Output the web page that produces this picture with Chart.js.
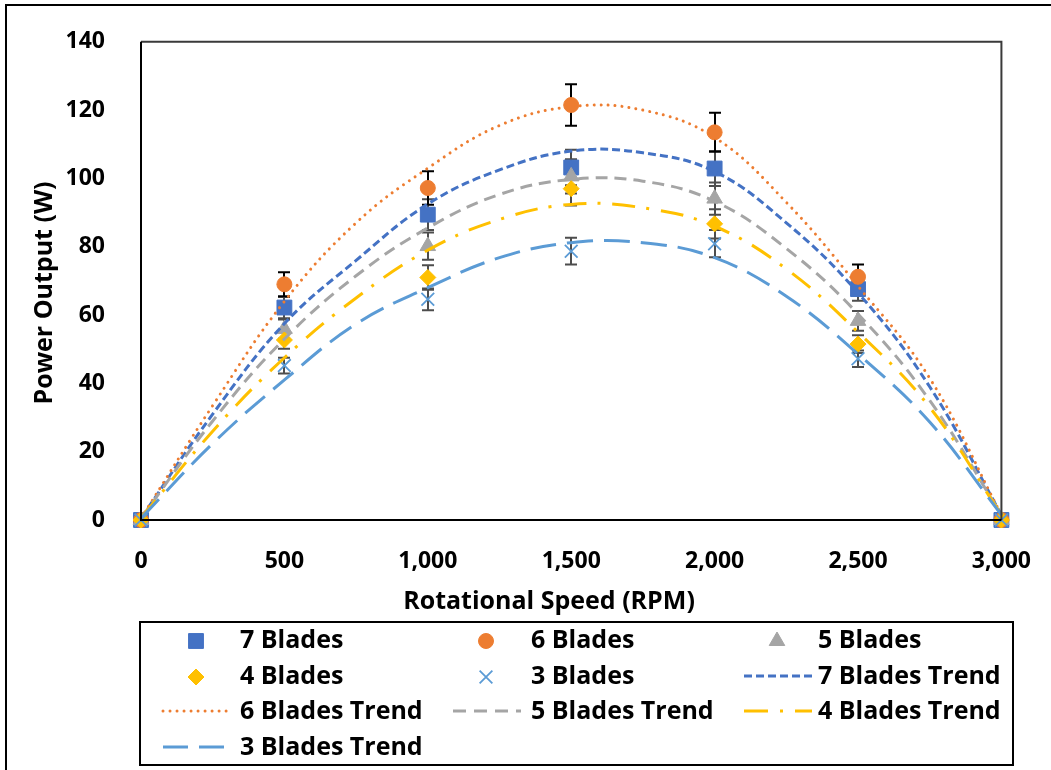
<!DOCTYPE html>
<html>
<head>
<meta charset="utf-8">
<title>Power Output vs Rotational Speed</title>
<script src="https://cdn.jsdelivr.net/npm/chart.js@4.4.1/dist/chart.umd.min.js"></script>
<style>
  html, body { margin: 0; padding: 0; background: #fff; }
  #wrap { width: 1051px; height: 770px; position: relative; }
</style>
</head>
<body>
<div id="wrap"><canvas id="myChart"></canvas></div>
<script>
'use strict';
// measured points
let rpm = [0, 500, 1000, 1500, 2000, 2500, 3000];
let blades7 = [0, 62.2, 89.4, 103.2, 102.9, 67.6, 0];
let blades6 = [0, 69.0, 97.2, 121.5, 113.5, 71.2, 0];
let blades5 = [0, 55.9, 80.2, 100.6, 94.1, 58.3, 0];
let blades4 = [0, 52.7, 71.0, 97.0, 86.7, 51.5, 0];
let blades3 = [0, 45.2, 64.6, 78.7, 80.9, 47.2, 0];

// error bar half-heights
let err7 = [0, 3.1, 4.5, 5.2, 5.1, 3.4, 0];
let err6 = [0, 3.5, 4.9, 6.1, 5.7, 3.6, 0];
let err5 = [0, 2.8, 4.0, 5.0, 4.7, 2.9, 0];
let err4 = [0, 2.6, 3.6, 4.9, 4.3, 2.6, 0];
let err3 = [0, 2.3, 3.2, 3.9, 4.0, 2.4, 0];

// trend lines
let trendRpm = [0, 250, 500, 750, 1000, 1250, 1500, 1750, 2000, 2250, 2500, 2750, 3000];
let trend7 = [0.5, 31, 57.5, 76, 92.5, 102.5, 108, 107.5, 102, 87, 66.5, 39, 1.5];
let trend6 = [0.5, 33.5, 64, 87, 103, 115.5, 121, 120, 112, 93, 68.5, 41.5, 1.5];
let trend5 = [0.5, 29, 53, 71.5, 85.5, 95.3, 99.7, 99.2, 93.3, 79.5, 60.3, 35, 1.5];
let trend4 = [0.5, 26, 47.5, 65, 79, 88, 92.4, 91.4, 86, 73.5, 55, 33, 1.5];
let trend3 = [0.5, 22.4, 41, 57.4, 68, 76.8, 81.2, 81.2, 76.8, 65.5, 48.6, 28.7, 1.5];

let xTickLabels = ['0', '500', '1,000', '1,500', '2,000', '2,500', '3,000'];
let seriesNames = ['7 Blades', '6 Blades', '5 Blades', '4 Blades', '3 Blades'];
let xTitle = 'Rotational Speed (RPM)';
let yTitle = 'Power Output (W)';

let seriesValues = [blades7, blades6, blades5, blades4, blades3];
let seriesErrors = [err7, err6, err5, err4, err3];
let errColors = ['#4d4d4d', '#000000', '#4d4d4d', '#4d4d4d', '#4d4d4d'];

let FONT = 'Open Sans';

function toPoints(xs, ys) {
  return xs.map((x, i) => ({ x: x, y: ys[i] }));
}

function markerSet(label, values, style, radius, color, bw) {
  return {
    label: label,
    data: toPoints(rpm, values),
    showLine: false,
    pointStyle: style,
    pointRadius: radius,
    pointHoverRadius: radius,
    backgroundColor: color,
    borderColor: color,
    pointBorderWidth: bw,
    clip: false
  };
}

function trendSet(label, values, color, dash, cap, legendDash) {
  return {
    label: label,
    data: toPoints(trendRpm, values),
    showLine: true,
    pointRadius: 0,
    borderColor: color,
    backgroundColor: color,
    borderWidth: 3,
    borderDash: dash,
    borderCapStyle: cap,
    tension: 0.4,
    legendDash: legendDash,
    clip: false
  };
}

let datasets = [
  markerSet(seriesNames[0], blades7, 'rect', 10.5, '#4472C4', 1),
  markerSet(seriesNames[1], blades6, 'circle', 7.5, '#ED7D31', 1),
  markerSet(seriesNames[2], blades5, 'triangle', 9, '#A5A5A5', 1),
  markerSet(seriesNames[3], blades4, 'rectRot', 8, '#FFC000', 1),
  markerSet(seriesNames[4], blades3, 'crossRot', 9, '#5B9BD5', 1.8),
  trendSet('7 Blades Trend', trend7, '#4472C4', [8, 4], 'butt', [8, 4]),
  trendSet('6 Blades Trend', trend6, '#ED7D31', [0.01, 7], 'round', [0.01, 7]),
  trendSet('5 Blades Trend', trend5, '#A5A5A5', [12, 7], 'butt', [13, 8]),
  trendSet('4 Blades Trend', trend4, '#FFC000', [23, 11, 3, 12], 'butt', [24, 12, 3, 12]),
  trendSet('3 Blades Trend', trend3, '#5B9BD5', [26, 11], 'butt', [25, 11])
];
// later series drawn on top, like the original
datasets.forEach((d, i) => { d.order = datasets.length - i; });

let extras = {
  id: 'extras',
  beforeDatasetsDraw(chart) {
    let ctx = chart.ctx;
    let xs = chart.scales.x;
    let ys = chart.scales.y;
    ctx.save();
    ctx.lineWidth = 2;
    for (let s = 0; s < seriesValues.length; s++) {
      ctx.strokeStyle = errColors[s];
      for (let i = 0; i < rpm.length; i++) {
        let e = seriesErrors[s][i];
        if (!e) continue;
        let px = Math.round(xs.getPixelForValue(rpm[i]));
        let top = ys.getPixelForValue(seriesValues[s][i] + e);
        let bot = ys.getPixelForValue(seriesValues[s][i] - e);
        ctx.beginPath();
        ctx.moveTo(px, top);
        ctx.lineTo(px, bot);
        ctx.moveTo(px - 6, top);
        ctx.lineTo(px + 6, top);
        ctx.moveTo(px - 6, bot);
        ctx.lineTo(px + 6, bot);
        ctx.stroke();
      }
    }
    ctx.restore();
  },
  afterDraw(chart) {
    let ctx = chart.ctx;
    let a = chart.chartArea;
    ctx.save();

    // plot frame
    ctx.lineWidth = 2;
    ctx.strokeStyle = '#3a3a3a';
    ctx.beginPath();
    ctx.moveTo(a.left, a.top);
    ctx.lineTo(a.right, a.top);
    ctx.lineTo(a.right, a.bottom);
    ctx.stroke();
    ctx.strokeStyle = '#000';
    ctx.beginPath();
    ctx.moveTo(a.left, a.top);
    ctx.lineTo(a.left, a.bottom);
    ctx.lineTo(a.right, a.bottom);
    ctx.stroke();

    // outer chart border
    ctx.strokeRect(6, 5, 1080, 800);

    // axis titles
    ctx.fillStyle = '#000';
    ctx.font = 'bold 25px "' + FONT + '"';
    ctx.textAlign = 'center';
    ctx.textBaseline = 'middle';
    ctx.fillText(xTitle, 549, 602);
    ctx.save();
    ctx.translate(45, 293);
    ctx.rotate(-Math.PI / 2);
    ctx.fillText(yTitle, 0, 0);
    ctx.restore();

    // legend box
    ctx.strokeRect(140, 622, 873, 143);

    let colSample = [163, 453, 744];
    let colText = [240, 531, 818];
    let rowY = [640, 676, 711, 747];
    ctx.textAlign = 'left';
    chart.data.datasets.forEach((ds, k) => {
      let c = k % 3;
      let cy = rowY[Math.floor(k / 3)];
      ctx.save();
      if (ds.showLine) {
        ctx.setLineDash(ds.legendDash);
        ctx.lineCap = ds.borderCapStyle;
        ctx.lineWidth = ds.borderWidth;
        ctx.strokeStyle = ds.borderColor;
        ctx.beginPath();
        ctx.moveTo(colSample[c], cy);
        ctx.lineTo(colSample[c] + 68, cy);
        ctx.stroke();
      } else {
        ctx.fillStyle = ds.backgroundColor;
        ctx.strokeStyle = ds.borderColor;
        ctx.lineWidth = ds.pointBorderWidth;
        Chart.helpers.drawPoint(ctx, {
          pointStyle: ds.pointStyle,
          radius: ds.pointRadius,
          rotation: 0,
          borderWidth: ds.pointBorderWidth
        }, colSample[c] + 33, cy + 1);
      }
      ctx.restore();
      ctx.fillStyle = '#000';
      ctx.fillText(ds.label, colText[c], cy + 1);
    });
    ctx.restore();
  }
};

Chart.defaults.font.family = FONT;
Chart.defaults.font.size = 23;
Chart.defaults.font.weight = 'bold';
Chart.defaults.color = '#000';

let ctx = document.getElementById('myChart').getContext('2d');
let myChart = new Chart(ctx, {
  type: 'scatter',
  data: { datasets: datasets },
  options: {
    responsive: true,
    maintainAspectRatio: false,
    animation: false,
    layout: { padding: { left: 0, top: 39, right: 38, bottom: 150 } },
    plugins: {
      legend: { display: false },
      tooltip: { enabled: false }
    },
    scales: {
      x: {
        type: 'linear',
        min: 0,
        max: 3000,
        afterFit: (scale) => { scale.height = 100; },
        grid: { display: false },
        border: { display: false },
        ticks: {
          stepSize: 500,
          padding: 20,
          callback: (v, i) => xTickLabels[i]
        },
        title: { display: false }
      },
      y: {
        min: 0,
        max: 140,
        afterFit: (scale) => { scale.width = 141; },
        grid: { display: false },
        border: { display: false },
        ticks: { stepSize: 20, padding: 28 },
        title: { display: false }
      }
    }
  },
  plugins: [extras]
});
</script>
</body>
</html>
